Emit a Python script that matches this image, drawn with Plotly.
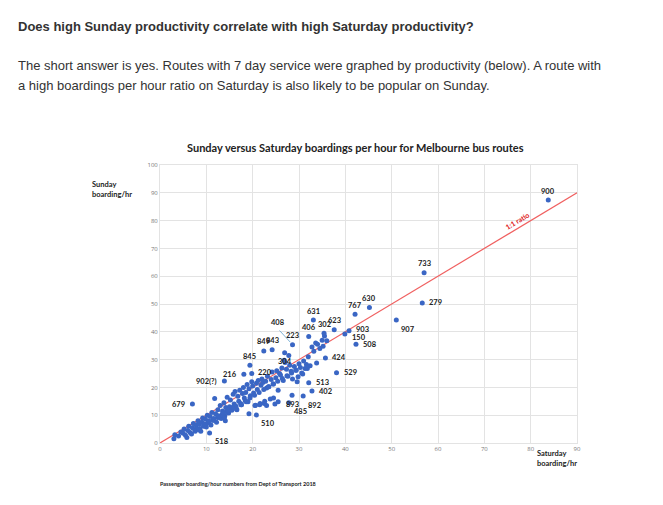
import plotly.graph_objects as go

# labelled routes
routes = ["900", "733", "279", "907", "630", "767", "631", "623", "302", "406", "903", "150",
          "508", "223", "849", "843", "304", "845", "424", "529", "216", "220", "902(?)", "513",
          "893", "402", "892", "485", "510", "679", "518"]
route_sat = [83.8, 57.0, 56.6, 51.0, 45.2, 42.1, 33.1, 37.6, 35.4, 32.1, 40.8, 39.9,
             42.3, 28.6, 22.4, 24.2, 26.9, 19.4, 35.7, 38.1, 18.1, 19.8, 13.9, 32.1,
             28.5, 32.8, 30.9, 27.8, 20.8, 7.0, 10.7]
route_sun = [87.4, 61.2, 50.4, 44.2, 48.7, 46.3, 44.2, 40.7, 39.5, 38.3, 40.4, 39.2,
             35.5, 35.3, 33.1, 33.5, 32.5, 28.0, 30.6, 25.3, 24.7, 25.0, 22.3, 21.7,
             17.2, 18.7, 16.9, 14.5, 10.1, 14.0, 3.6]

# unlabelled routes, (saturday, sunday)
other_points = [
    (3, 1.5), (3.2, 3), (4, 2.5), (4.5, 4), (5, 3.5), (5.2, 5), (5.5, 2.8), (6, 4.5), (6.2, 6),
    (6.5, 3.8), (7, 5.5), (7.2, 7), (7.5, 4.8), (7.8, 6.5), (8, 5.2), (8.2, 8), (8.5, 6.8),
    (8.8, 4.2), (9, 7.5), (9.2, 9), (9.5, 6.2), (9.8, 8.5), (10, 5.8), (10.2, 10), (10.5, 7.8),
    (10.8, 9.5), (11, 6.5), (11.2, 11), (11.5, 8.2), (11.8, 16), (12, 10.5), (12.2, 7.5),
    (12.5, 12), (12.8, 9.2), (13, 13.5), (13.2, 8.8), (13.5, 11.5), (13.8, 14.5), (14, 9.8),
    (14.2, 12.8), (14.5, 16.5), (14.8, 10.8), (15, 13), (15.2, 15.5), (15.5, 11.8),
    (15.8, 17.5), (16, 14), (16.2, 18.5), (16.5, 12.2), (16.8, 16.8), (17, 15), (17.2, 19),
    (17.5, 13.8), (17.8, 17.8), (18, 20), (18.2, 16.2), (18.5, 18.2), (18.8, 21), (19, 14.8),
    (19.2, 19.5), (19.5, 17), (19.8, 22), (20, 20.5), (20.2, 18), (20.5, 13.5), (20.8, 21.5),
    (21, 19.2), (21.2, 22.5), (21.5, 13.8), (21.8, 20.8), (22, 23), (22.2, 21.8), (22.5, 14.2),
    (22.8, 22.2), (23, 19.8), (23.2, 24), (23.5, 20.2), (23.8, 15.8), (24, 22.8), (24.2, 25.5),
    (24.5, 21.2), (24.8, 14), (25, 23.5), (25.2, 26), (25.5, 19), (25.8, 25), (26, 24.5),
    (26.3, 27), (26.6, 22.5), (27, 29), (27.3, 26.5), (27.6, 24), (28, 28), (28.3, 25.8),
    (28.6, 23), (29, 27.5), (29.3, 26.2), (29.6, 22), (30, 28.5), (30.3, 27.2), (30.6, 25.2),
    (31, 29.5), (31.3, 26.8), (31.6, 28.2), (32, 31), (32.4, 27.8), (32.8, 34.5), (33.2, 33),
    (33.6, 36), (34, 35.5), (34.5, 34), (35, 37), (35.5, 38.5), (5.8, 2), (6.8, 3.2),
    (7.6, 4.2), (8.6, 5.2), (9.4, 6), (10.4, 7.2), (11.4, 8.2), (12.4, 9.2), (13.4, 10.2),
    (14.4, 11.2), (15.4, 12.2), (16.4, 13.2), (17.4, 14.2), (18.4, 15.2), (19.4, 16.2),
    (20.4, 17.2), (21.4, 18.2), (22.4, 19.2), (23.4, 20.2), (24.4, 21.2), (25.4, 22.2),
    (26.4, 23.2), (27.4, 24.2), (28.4, 25.2), (29.4, 26.2), (12.6, 9.8), (13.6, 10.8),
    (14.6, 11.8), (15.6, 12.8), (11.6, 8.8), (10.6, 7.8), (9.6, 6.8), (8.4, 4.8), (13.9, 9),
    (14.1, 8), (17.6, 13.8), (18.6, 14.8), (20.6, 13.6), (21.6, 14.2), (22.6, 15), (16.6, 12),
    (29.8, 23.8), (30.8, 24.8), (31.8, 26.8), (33.8, 28.8), (35.2, 34.8), (36.0, 36.8),
    (27.8, 31.5), (26.8, 29.8), (24.5, 16.2), (25.5, 14.8), (19.2, 10.5), (23.0, 13.5),
]
other_sat = [p[0] for p in other_points]
other_sun = [p[1] for p in other_points]

rx = [0, 90]
ry = [0, 90]

fig = go.Figure()
fig.add_trace(go.Scatter(x=rx, y=ry, mode="lines", line=dict(color="#f06060", width=1.2),
                         hoverinfo="skip"))
fig.add_trace(go.Scatter(x=other_sat + route_sat, y=other_sun + route_sun, mode="markers",
                         marker=dict(color="#3a66c4", size=5)))

above = ("900", "733", "631", "630", "767", "302", "623", "406", "849", "843", "845", "223")
right = ("424", "529", "508", "150", "903", "513", "402", "279")
left = ("902(?)", "679", "216")
below = ("907", "510", "518", "485", "892")
for r, x, y in zip(routes, route_sat, route_sun):
    xs, ys, xa = 4, -6, "left"
    if r in above:
        xs, ys, xa = 0, 9, "center"
    if r == "304":
        xs, ys, xa = 0, -9, "center"
    if r in left:
        xs, ys, xa = -5, 0, "right"
    if r in right:
        xs, ys, xa = 5, 0, "left"
    if r in below:
        xs, ys, xa = 3, -9, "left"
    if r == "893":
        xs, ys, xa = 0, -9, "center"
    if r == "220":
        xs, ys, xa = 4, 1, "left"
    if r == "150":
        xs, ys = 5, -3
    if r == "903":
        xs, ys = 5, 1
    fig.add_annotation(x=x, y=y, text="<b>" + r + "</b>", showarrow=False, xshift=xs, yshift=ys,
                       xanchor=xa, font=dict(size=7.5, color="#222", family="Lato"))

fig.add_annotation(x=28.1, y=36.3, ax=25.5, ay=41, axref="x", ayref="y", text="",
                   showarrow=True, arrowhead=0, arrowwidth=1, arrowcolor="#7fb3d8")
fig.add_annotation(x=25.5, y=42, text="<b>408</b>", showarrow=False, yshift=4,
                   font=dict(size=7.5, color="#222", family="Lato"))
fig.add_annotation(x=77, y=80, text="<b>1:1 ratio</b>", showarrow=False, textangle=-31,
                   font=dict(size=7, color="#e02020", family="Lato"))

texts = [
    (18, "<b>Does high Sunday productivity correlate with high Saturday productivity?</b>"),
    (57, "The short answer is yes. Routes with 7 day service were graphed by productivity (below). A route with"),
    (77, "a high boardings per hour ratio on Saturday is also likely to be popular on Sunday."),
]
for yp, t in texts:
    fig.add_annotation(xref="paper", yref="paper", x=(8 - 152) / 417,
                       y=(435 - yp) / 278, text=t, showarrow=False, xanchor="left",
                       yanchor="middle", font=dict(size=13, color="#333", family="Arial"))
fig.add_annotation(xref="paper", yref="paper", x=0.47, y=(435 - 131) / 278,
                   text="<b>Sunday versus Saturday boardings per hour for Melbourne bus routes</b>",
                   showarrow=False, font=dict(size=11, color="#222", family="Lato"))
fig.add_annotation(xref="paper", yref="paper", x=(82 - 152) / 417, y=(435 - 170) / 278,
                   text="<b>Sunday<br>boarding/hr</b>", showarrow=False, xanchor="left", align="left",
                   font=dict(size=7.5, color="#222", family="Lato"))
fig.add_annotation(xref="paper", yref="paper", x=(527 - 152) / 417, y=(435 - 462) / 278,
                   text="<b>Saturday<br>boarding/hr</b>", showarrow=False, xanchor="left", align="left",
                   font=dict(size=7.5, color="#222", family="Lato"))
fig.add_annotation(xref="paper", yref="paper", x=(150 - 152) / 417, y=(435 - 481) / 278,
                   text="<b>Passenger boarding/hour numbers from Dept of Transport 2018</b>",
                   showarrow=False, xanchor="left", font=dict(size=5.5, color="#222", family="Lato"))

fig.update_xaxes(range=[0, 90], dtick=10, showgrid=True, gridcolor="#e3e3e3", zeroline=False,
                 showline=True, linecolor="#e3e3e3", mirror=True,
                 tickfont=dict(size=6, color="#777"), ticks="")
fig.update_yaxes(range=[0, 100], dtick=10, showgrid=True, gridcolor="#e3e3e3", zeroline=False,
                 showline=True, linecolor="#e3e3e3", mirror=True,
                 tickfont=dict(size=6, color="#777"), ticks="")
fig.update_layout(width=663, height=505, showlegend=False, plot_bgcolor="white",
                  paper_bgcolor="white", margin=dict(l=152, r=94, t=157, b=70))
fig.write_html("out.html")
